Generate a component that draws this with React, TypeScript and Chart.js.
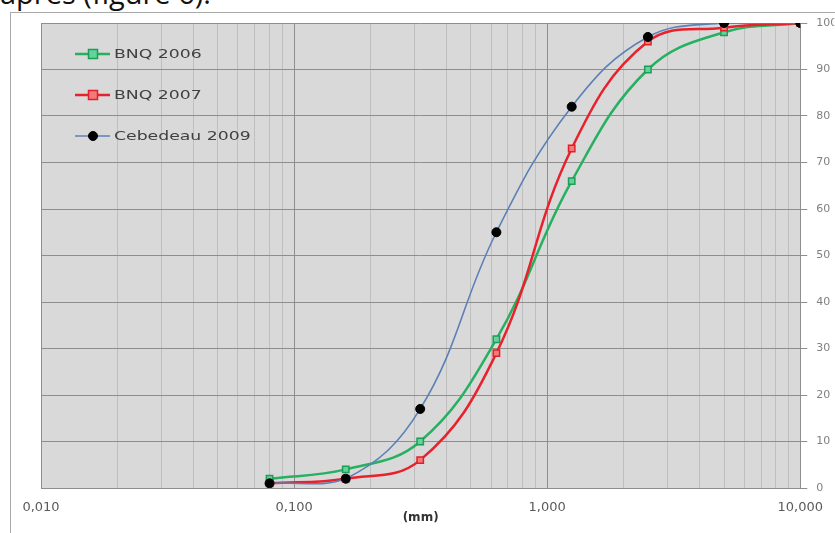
import React, { useEffect, useRef } from 'react';
import { Chart, registerables } from 'chart.js';

Chart.register(...registerables);

// ---- data ----
const sieveSizes = [0.08, 0.16, 0.315, 0.63, 1.25, 2.5, 5, 10];
const bnq2006 = [2, 4, 10, 32, 66, 90, 98, 100];
const bnq2007 = [1, 2, 6, 29, 73, 96, 99, 100];
const cebedeau2009 = [1, 2, 17, 55, 82, 97, 100, 100];
const seriesNames = ['BNQ 2006', 'BNQ 2007', 'Cebedeau 2009'];
const decadeTicks = [0.01, 0.1, 1, 10];
const yMin = 0;
const yMax = 100;
const yStep = 10;
const headingText = 'après (figure 6).';
const xAxisTitle = '(mm)';

const isDecade = (v: number) => {
  const l = Math.log10(v);
  return Math.abs(l - Math.round(l)) < 1e-6;
};

const buildLogTicks = () => {
  const out: number[] = [];
  for (let i = 0; i < decadeTicks.length - 1; i++) {
    for (let m = 1; m <= 9; m++) out.push(Number((decadeTicks[i] * m).toPrecision(6)));
  }
  out.push(decadeTicks[decadeTicks.length - 1]);
  return out;
};

const toPoints = (ys: number[]) => sieveSizes.map((x, i) => ({ x, y: ys[i] }));

const plotBgPlugin = {
  id: 'plotBg',
  beforeDraw(chart: any) {
    const { ctx, chartArea } = chart;
    ctx.save();
    ctx.fillStyle = '#d9d9d9';
    ctx.fillRect(chartArea.left, chartArea.top, chartArea.right - chartArea.left, chartArea.bottom - chartArea.top);
    ctx.restore();
  },
};

const insideLegendPlugin = {
  id: 'insideLegend',
  afterDatasetsDraw(chart: any) {
    const { ctx, chartArea } = chart;
    chart.data.datasets.forEach((ds: any, i: number) => {
      const y = chartArea.top + 31 + i * 41;
      const x0 = chartArea.left + 34;
      const x1 = chartArea.left + 69;
      const mx = chartArea.left + 52;
      ctx.save();
      ctx.strokeStyle = ds.borderColor;
      ctx.lineWidth = ds.borderWidth;
      ctx.beginPath();
      ctx.moveTo(x0, y);
      ctx.lineTo(x1, y);
      ctx.stroke();
      const r = ds.pointRadius;
      ctx.fillStyle = ds.pointBackgroundColor;
      ctx.strokeStyle = ds.pointBorderColor;
      ctx.lineWidth = ds.pointBorderWidth;
      if (ds.pointStyle === 'circle') {
        ctx.beginPath();
        ctx.arc(mx, y, r, 0, Math.PI * 2);
        ctx.fill();
        ctx.stroke();
      } else {
        ctx.fillRect(mx - r, y - r, r * 2, r * 2);
        ctx.strokeRect(mx - r, y - r, r * 2, r * 2);
      }
      ctx.translate(chartArea.left + 73, y + 1);
      ctx.scale(1.38, 1);
      ctx.font = '12.5px "DejaVu Sans"';
      ctx.fillStyle = '#404040';
      ctx.textBaseline = 'middle';
      ctx.textAlign = 'left';
      ctx.fillText(ds.label, 0, 0);
      ctx.restore();
    });
  },
};

export default function App() {
  const canvasRef = useRef<HTMLCanvasElement | null>(null);

  useEffect(() => {
    if (!canvasRef.current) return;
    const chart = new Chart(canvasRef.current, {
      type: 'line',
      data: {
        datasets: [
          {
            label: seriesNames[0],
            data: toPoints(bnq2006),
            borderColor: '#27b060',
            borderWidth: 2.5,
            pointStyle: 'rect',
            pointRadius: 4.5,
            pointBackgroundColor: '#62d39c',
            pointBorderColor: '#1e9e55',
            pointBorderWidth: 1.5,
            tension: 0.4,
            fill: false,
            order: 2,
          },
          {
            label: seriesNames[1],
            data: toPoints(bnq2007),
            borderColor: '#e8222c',
            borderWidth: 2.5,
            pointStyle: 'rect',
            pointRadius: 4.5,
            pointBackgroundColor: '#f47a7a',
            pointBorderColor: '#e02028',
            pointBorderWidth: 1.5,
            tension: 0.4,
            fill: false,
            order: 1,
          },
          {
            label: seriesNames[2],
            data: toPoints(cebedeau2009),
            borderColor: '#5b80b6',
            borderWidth: 1.6,
            pointStyle: 'circle',
            pointRadius: 4.5,
            pointBackgroundColor: '#000000',
            pointBorderColor: '#000000',
            pointBorderWidth: 1,
            tension: 0.4,
            fill: false,
            order: 0,
          },
        ],
      },
      options: {
        responsive: false,
        animation: false,
        events: [],
        layout: { padding: { left: 41, top: 23, right: 0, bottom: 0 } },
        plugins: {
          legend: { display: false },
          tooltip: { enabled: false },
        },
        scales: {
          x: {
            type: 'logarithmic',
            position: 'bottom',
            min: decadeTicks[0],
            max: decadeTicks[decadeTicks.length - 1],
            afterBuildTicks: (scale: any) => {
              scale.ticks = buildLogTicks().map((v) => ({ value: v, major: isDecade(v) }));
            },
            afterFit: (scale: any) => {
              scale.height = 45;
            },
            border: { display: false },
            grid: {
              drawTicks: false,
              color: (c: any) => (c.tick && isDecade(c.tick.value) ? '#8e8e8e' : '#bfbfbf'),
              lineWidth: 1,
            },
            ticks: {
              autoSkip: false,
              maxRotation: 0,
              minRotation: 0,
              padding: 12,
              color: '#5a5a5a',
              font: { family: '"DejaVu Sans"', size: 13 },
              callback: (v: any) => (isDecade(Number(v)) ? Number(v).toFixed(3).replace('.', ',') : ''),
            },
            title: {
              display: true,
              text: xAxisTitle,
              color: '#333333',
              font: { family: '"DejaVu Sans"', size: 12, weight: 'bold' },
              padding: { top: 0, bottom: 8 },
            },
          },
          y: {
            type: 'linear',
            position: 'right',
            min: yMin,
            max: yMax,
            afterFit: (scale: any) => {
              scale.width = 34;
            },
            border: { display: false },
            grid: {
              color: '#8e8e8e',
              tickLength: 7,
              drawTicks: true,
            },
            ticks: {
              stepSize: yStep,
              padding: 9,
              color: '#808080',
              font: { family: '"DejaVu Sans"', size: 11 },
            },
          },
        },
      } as any,
      plugins: [plotBgPlugin, insideLegendPlugin],
    });
    return () => chart.destroy();
  }, []);

  return (
    <div
      style={{
        position: 'fixed',
        left: 0,
        top: 0,
        width: 835,
        height: 533,
        overflow: 'hidden',
        background: '#ffffff',
      }}
    >
      <div
        style={{
          position: 'absolute',
          left: 0,
          top: -22,
          fontFamily: '"Open Sans", sans-serif',
          fontSize: 29,
          lineHeight: '29px',
          color: '#111111',
          whiteSpace: 'nowrap',
        }}
      >
        {headingText}
      </div>
      <div
        style={{
          position: 'absolute',
          left: 10,
          top: 12,
          width: 840,
          height: 540,
          borderTop: '1px solid #a9a9a9',
          borderLeft: '1px solid #a9a9a9',
        }}
      />
      <canvas
        ref={canvasRef}
        width={835}
        height={533}
        style={{ position: 'absolute', left: 0, top: 0, width: 835, height: 533 }}
      />
    </div>
  );
}
